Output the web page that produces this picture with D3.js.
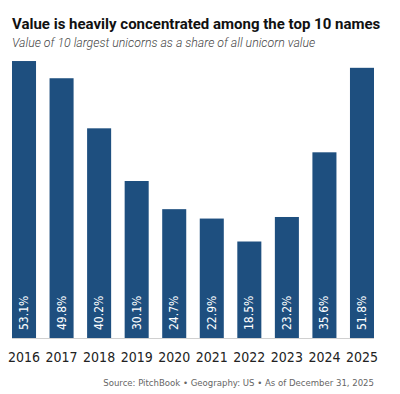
<!DOCTYPE html>
<html>
<meta charset="utf-8">
<title>Top 10 unicorn share</title>
<style>
body { margin: 0; background: #fff; }
text { font-family: Roboto, "Noto Sans", sans-serif; }
.title { font-size: 15px; font-weight: 700; fill: #111; }
.sub { font-size: 12.3px; font-style: italic; fill: #444; font-weight: 300; }
.year { font-family: "Liberation Sans Narrow", "DejaVu Sans Condensed", sans-serif; font-size: 14px; fill: #222; }
.val { font-family: "Liberation Sans Narrow", "DejaVu Sans Condensed", sans-serif; font-size: 12px; fill: #fff; }
.src { font-family: "Liberation Sans Narrow", "DejaVu Sans Condensed", sans-serif; font-size: 9.5px; fill: #666; }
</style>
<body>
<svg id="chart" width="400" height="394"></svg>
<script src="https://cdn.jsdelivr.net/npm/d3@7"></script>
<script>
var years = ["2016","2017","2018","2019","2020","2021","2022","2023","2024","2025"];
var shares = [53.1, 49.8, 40.2, 30.1, 24.7, 22.9, 18.5, 23.2, 35.6, 51.8];

var svg = d3.select("#chart");
var base = 338;

var x = d3.scaleBand().domain(years).range([12, 374]).paddingInner(0.36).paddingOuter(0);
var y = d3.scaleLinear().domain([0, 55]).range([base, base - 55 * 5.216]);

svg.append("text").attr("class", "title").attr("x", 12).attr("y", 29)
  .text("Value is heavily concentrated among the top 10 names");
svg.append("text").attr("class", "sub").attr("x", 12).attr("y", 47)
  .text("Value of 10 largest unicorns as a share of all unicorn value");

svg.selectAll("rect.bar").data(shares).enter().append("rect")
  .attr("class", "bar")
  .attr("x", function(d, i){ return x(years[i]); })
  .attr("y", function(d){ return y(d); })
  .attr("width", x.bandwidth())
  .attr("height", function(d){ return y(0) - y(d); })
  .attr("fill", "#1e4f7f");

svg.append("line")
  .attr("x1", 12).attr("x2", 374)
  .attr("y1", base + 0.5).attr("y2", base + 0.5)
  .attr("stroke", "#d0d0d0").attr("stroke-width", 1);

svg.selectAll("text.val").data(shares).enter().append("text")
  .attr("class", "val")
  .attr("transform", function(d, i){
    return "translate(" + (x(years[i]) + x.bandwidth() / 2 + 4) + "," + (base - 8) + ") rotate(-90)";
  })
  .text(function(d){ return d.toFixed(1) + "%"; });

svg.selectAll("text.year").data(years).enter().append("text")
  .attr("class", "year")
  .attr("x", function(d){ return x(d) + x.bandwidth() / 2; })
  .attr("y", 362)
  .attr("text-anchor", "middle")
  .text(function(d){ return d; });

svg.append("text").attr("class", "src").attr("x", 374).attr("y", 386)
  .attr("text-anchor", "end")
  .text("Source: PitchBook \u2022 Geography: US \u2022 As of December 31, 2025");
</script>
</body>
</html>
